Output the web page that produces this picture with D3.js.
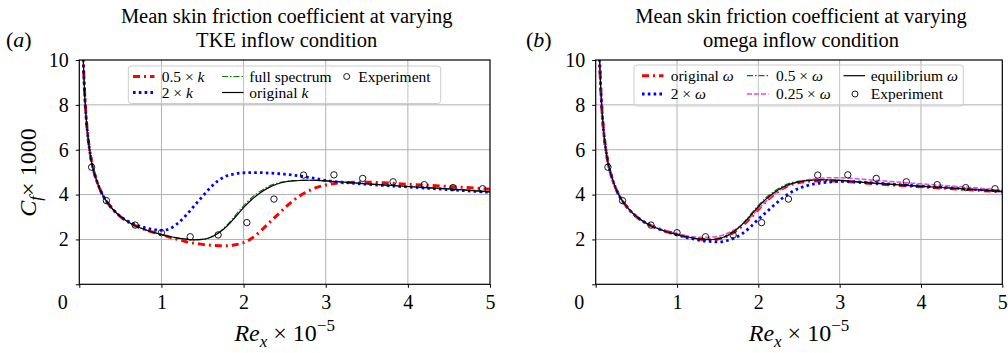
<!DOCTYPE html>
<html><head><meta charset="utf-8">
<script src="https://cdn.jsdelivr.net/npm/d3@7"></script>
<style>
body{margin:0;background:#fff}
svg{display:block;font-family:"Liberation Serif","Times New Roman",serif}
</style></head>
<body><svg id="c" width="1008" height="353"></svg>
<script>
// ---- data ----
const reX = [0.045,0.06,0.08,0.1,0.125,0.15,0.2,0.25,0.3,0.4,0.5,0.6,0.7,0.8,0.9,1.0,
  1.1,1.2,1.3,1.4,1.5,1.6,1.7,1.8,1.9,2.0,2.1,2.2,2.3,2.4,2.5,2.6,2.7,2.8,2.9,3.0,3.2,3.5,4.0,4.5,5.0];
const commonLam = [10.3,8.9,7.6,6.75,6.0,5.45,4.75,4.25,3.88,3.38,3.02,2.77,2.58,2.44,2.32,2.22];

// panel (a): TKE inflow
const halfK   = commonLam.concat([2.1,2.0,1.9,1.83,1.78,1.74,1.72,1.72,1.76,1.86,2.05,2.35,2.7,3.05,3.4,3.72,3.98,4.18,4.33,4.43,4.53,4.55,4.46,4.36,4.24]);
const twoK    = [10.3,8.9,7.6,6.75,6.0,5.45,4.75,4.25,3.88,3.38,3.03,2.8,2.64,2.52,2.44,2.4,
  2.48,2.72,3.08,3.5,3.92,4.33,4.65,4.84,4.93,4.97,4.98,4.98,4.96,4.94,4.91,4.87,4.82,4.76,4.7,4.63,4.55,4.46,4.34,4.22,4.1];
const fullSpec = commonLam.concat([2.13,2.06,2.01,1.98,2.0,2.1,2.32,2.65,3.07,3.5,3.86,4.14,4.36,4.5,4.58,4.62,4.63,4.64,4.63,4.61,4.56,4.48,4.36,4.25,4.12]);
const origK   = commonLam.concat([2.13,2.06,2.01,1.98,2.0,2.1,2.3,2.6,3.0,3.42,3.78,4.07,4.3,4.46,4.56,4.61,4.63,4.64,4.63,4.61,4.56,4.48,4.36,4.25,4.12]);

// panel (b): omega inflow
const origW   = commonLam.concat([2.13,2.06,2.01,1.99,2.02,2.12,2.32,2.6,2.95,3.35,3.72,4.02,4.27,4.44,4.54,4.59,4.61,4.62,4.61,4.6,4.55,4.47,4.35,4.24,4.12]);
const twoW    = commonLam.concat([2.1,2.02,1.95,1.91,1.89,1.93,2.05,2.25,2.55,2.9,3.22,3.55,3.85,4.1,4.28,4.4,4.48,4.53,4.57,4.59,4.57,4.5,4.38,4.27,4.15]);
const halfW   = commonLam.concat([2.13,2.06,2.01,1.99,2.02,2.13,2.35,2.68,3.1,3.52,3.88,4.16,4.38,4.52,4.6,4.64,4.66,4.67,4.66,4.64,4.58,4.5,4.38,4.27,4.14]);
const quarterW = [10.3,8.9,7.6,6.75,6.0,5.45,4.75,4.25,3.88,3.38,3.02,2.77,2.59,2.45,2.34,2.25,
  2.18,2.12,2.1,2.1,2.14,2.24,2.42,2.66,2.98,3.35,3.72,4.03,4.28,4.46,4.58,4.66,4.71,4.74,4.75,4.75,4.71,4.62,4.48,4.35,4.2];
const equilW  = commonLam.concat([2.13,2.06,2.01,1.99,2.02,2.14,2.36,2.66,3.05,3.46,3.82,4.1,4.33,4.48,4.57,4.62,4.65,4.66,4.65,4.63,4.57,4.49,4.37,4.26,4.14]);

// experiment
const expX = [0.15,0.33,0.68,1.0,1.35,1.69,2.04,2.37,2.73,3.10,3.45,3.82,4.20,4.55,4.91];
const expY = [5.22,3.73,2.64,2.30,2.12,2.20,2.75,3.80,4.87,4.88,4.72,4.57,4.44,4.31,4.26];

// ticks
const xTickVals = [0,1,2,3,4,5];
const yTickVals = [0,2,4,6,8,10];
const yTickLabels = ["","2","4","6","8","10"];

// ---- styles ----
const ST = {
  red:     {stroke:"#ff0000", w:3,   dash:"7,4,2,4"},
  blue:    {stroke:"#0000ff", w:2.8, dash:"2.6,3.2"},
  green:   {stroke:"#008000", w:1.2, dash:"6,2,1.5,2"},
  black:   {stroke:"#000000", w:1.2, dash:null},
  magenta: {stroke:"#dd4fdd", w:1.5, dash:"5,2"}
};

const svg = d3.select("#c");
const TOP = 60, BOT = 284.3;

function panel(cfg){
  const x = d3.scaleLinear().domain([0,5]).range([cfg.left, cfg.right]);
  const y = d3.scaleLinear().domain([0,10]).range([BOT, TOP]);
  const g = svg.append("g");
  const cid = "clip"+cfg.id;
  svg.append("clipPath").attr("id",cid).append("rect")
    .attr("x",cfg.left).attr("y",TOP).attr("width",cfg.right-cfg.left).attr("height",BOT-TOP);

  // grid
  g.append("g").selectAll("line").data([1,2,3,4]).join("line")
    .attr("x1",d=>x(d)).attr("x2",d=>x(d)).attr("y1",TOP).attr("y2",BOT)
    .attr("stroke","#b0b0b0").attr("stroke-width",1);
  g.append("g").selectAll("line").data([2,4,6,8]).join("line")
    .attr("y1",d=>y(d)).attr("y2",d=>y(d)).attr("x1",cfg.left).attr("x2",cfg.right)
    .attr("stroke","#b0b0b0").attr("stroke-width",1);

  // curves
  const line = d3.line().x((d,i)=>x(reX[i])).y(d=>y(d)).curve(d3.curveMonotoneX);
  const cg = g.append("g").attr("clip-path",`url(#${cid})`);
  cfg.series.forEach(s=>{
    const st = ST[s.style];
    cg.append("path").datum(s.data).attr("d",line).attr("fill","none")
      .attr("stroke",st.stroke).attr("stroke-width",st.w)
      .attr("stroke-dasharray",st.dash);
  });
  // experiment
  g.append("g").selectAll("circle").data(expX).join("circle")
    .attr("cx",(d)=>x(d)).attr("cy",(d,i)=>y(expY[i])).attr("r",3.2)
    .attr("fill","none").attr("stroke","#000").attr("stroke-width",0.9);

  // axes
  const xa = g.append("g").attr("transform",`translate(0,${BOT})`)
    .call(d3.axisBottom(x).tickValues(xTickVals).tickSize(3.5).tickPadding(7).tickFormat(d3.format("d")));
  const ya = g.append("g").attr("transform",`translate(${cfg.left},0)`)
    .call(d3.axisLeft(y).tickValues(yTickVals).tickSize(3.5).tickPadding(7).tickFormat((d,i)=>yTickLabels[i]));
  [xa,ya].forEach(a=>{
    a.select(".domain").remove();
    a.selectAll("text").attr("font-family","Liberation Serif").attr("font-size",20).attr("fill","#000");
    a.selectAll("line").attr("stroke","#000").attr("stroke-width",1);
  });
  xa.selectAll(".tick text").attr("dy","0.72em");
  xa.selectAll(".tick").filter(d=>d===0).select("text").attr("dx",-17);
  // frame
  g.append("rect").attr("x",cfg.left).attr("y",TOP).attr("width",cfg.right-cfg.left).attr("height",BOT-TOP)
    .attr("fill","none").attr("stroke","#000").attr("stroke-width",1.2);

  // titles
  const cx = (cfg.left+cfg.right)/2 + 2;
  cfg.title.forEach((t,i)=>{
    g.append("text").attr("x",cx).attr("y",22.5+i*24.6).attr("text-anchor","middle")
      .attr("font-size",20.5).text(t);
  });
  const pl = g.append("text").attr("x",cfg.letterX).attr("y",47).attr("font-size",22);
  pl.append("tspan").text("(");
  pl.append("tspan").attr("font-style","italic").text(cfg.letter);
  pl.append("tspan").text(")");

  // x label
  const xl = g.append("text").attr("x",cx-2).attr("y",341).attr("text-anchor","middle").attr("font-size",24);
  xl.append("tspan").attr("font-style","italic").text("Re");
  xl.append("tspan").attr("font-style","italic").attr("font-size",17).attr("dy",6).text("x");
  xl.append("tspan").attr("dy",-6).text(" × 10");
  xl.append("tspan").attr("font-size",17).attr("dy",-10).text("−5");

  // legend
  const L = cfg.legend;
  const lg = g.append("g");
  lg.append("rect").attr("x",L.x0).attr("y",L.y0).attr("width",L.x1-L.x0).attr("height",L.y1-L.y0)
    .attr("rx",3).attr("fill","#fff").attr("fill-opacity",0.25)
    .attr("stroke","#cccccc").attr("stroke-width",1);
  L.items.forEach(it=>{
    if(it.style==="exp"){
      lg.append("circle").attr("cx",it.mx).attr("cy",it.y).attr("r",3)
        .attr("fill","none").attr("stroke","#000").attr("stroke-width",0.9);
    } else {
      const st = ST[it.style];
      lg.append("line").attr("x1",it.lx).attr("x2",it.lx+21.5).attr("y1",it.y).attr("y2",it.y)
        .attr("stroke",st.stroke).attr("stroke-width",st.w).attr("stroke-dasharray",st.dash);
    }
    const t = lg.append("text").attr("x",it.tx).attr("y",it.y+5).attr("font-size",15.5);
    it.label.forEach(p=>{
      const sp = t.append("tspan").text(p[0]);
      if(p[1]) sp.attr("font-style","italic");
    });
  });
}

// y label (shared, left)
const yl = svg.append("text").attr("transform","translate(36,172.5) rotate(-90)")
  .attr("text-anchor","middle").attr("font-size",24);
yl.append("tspan").attr("font-style","italic").text("C");
yl.append("tspan").attr("font-style","italic").attr("font-size",17).attr("dy",5).text("f");
yl.append("tspan").attr("dy",-5).text("× 1000");

panel({
  id:"a", left:79.3, right:490, letter:"a", letterX:6,
  title:["Mean skin friction coefficient at varying","TKE inflow condition"],
  series:[
    {data:halfK, style:"red"},
    {data:twoK, style:"blue"},
    {data:fullSpec, style:"green"},
    {data:origK, style:"black"}
  ],
  legend:{x0:128.3,y0:66,x1:440.7,y1:103.5, items:[
    {style:"red", lx:133, tx:161.7, y:76.5, label:[["0.5 × "],["k",1]]},
    {style:"blue", lx:133, tx:161.7, y:92.5, label:[["2 × "],["k",1]]},
    {style:"green", lx:222, tx:249.3, y:76.5, label:[["full spectrum"]]},
    {style:"black", lx:222, tx:249.3, y:92.5, label:[["original "],["k",1]]},
    {style:"exp", mx:346.7, tx:358.3, y:76.5, label:[["Experiment"]]}
  ]}
});

panel({
  id:"b", left:595.7, right:1002.3, letter:"b", letterX:526,
  title:["Mean skin friction coefficient at varying","omega inflow condition"],
  series:[
    {data:origW, style:"red"},
    {data:twoW, style:"blue"},
    {data:halfW, style:"green"},
    {data:quarterW, style:"magenta"},
    {data:equilW, style:"black"}
  ],
  legend:{x0:634,y0:65,x1:963.3,y1:106, items:[
    {style:"red", lx:642, tx:670.7, y:75.7, label:[["original "],["ω",1]]},
    {style:"blue", lx:642, tx:670.7, y:94, label:[["2 × "],["ω",1]]},
    {style:"green", lx:747, tx:776, y:75.7, label:[["0.5 × "],["ω",1]]},
    {style:"magenta", lx:747, tx:776, y:94, label:[["0.25 × "],["ω",1]]},
    {style:"black", lx:843.5, tx:870.7, y:75.7, label:[["equilibrium "],["ω",1]]},
    {style:"exp", mx:855, tx:870.7, y:94, label:[["Experiment"]]}
  ]}
});
</script></body></html>
